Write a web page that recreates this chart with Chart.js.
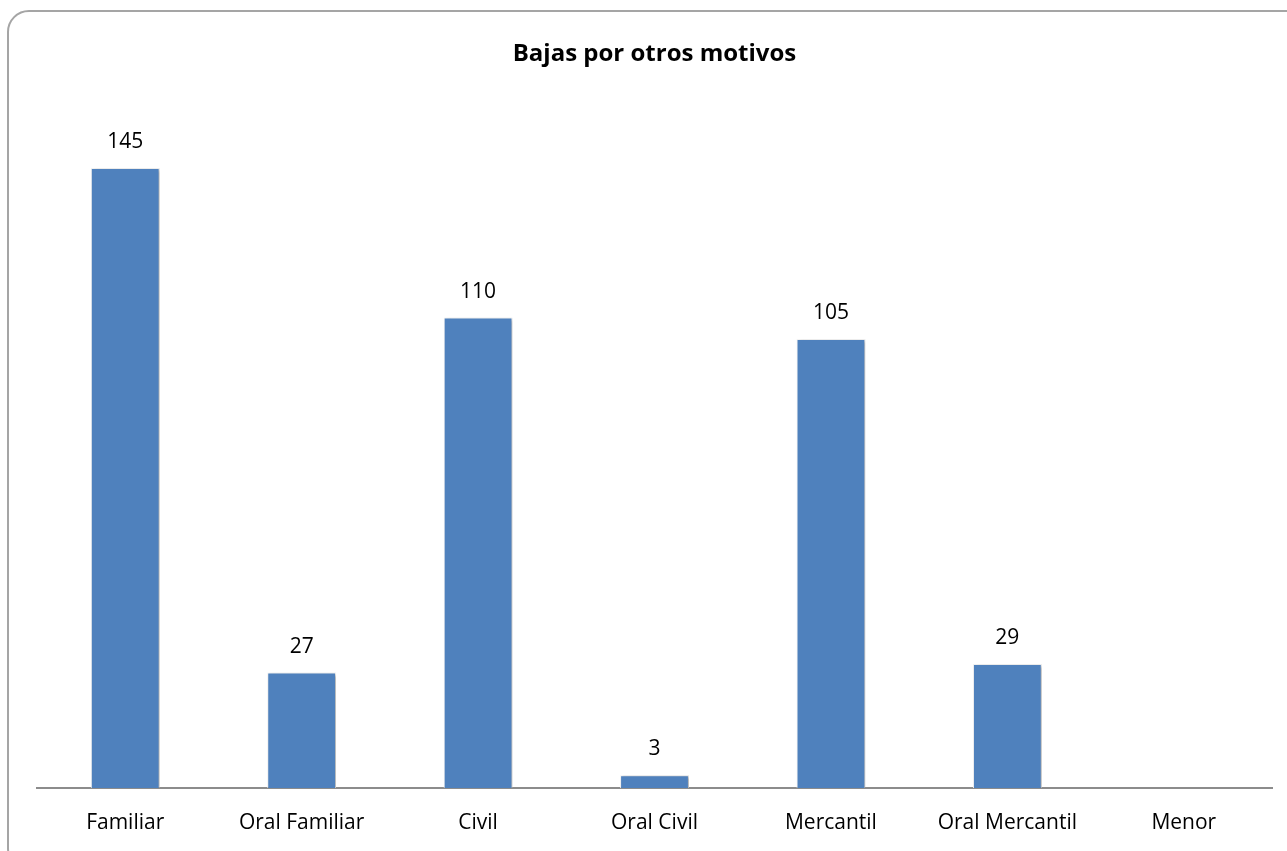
<!DOCTYPE html>
<html>
<head>
<meta charset="utf-8">
<script src="https://cdn.jsdelivr.net/npm/chart.js@4.4.0/dist/chart.umd.min.js"></script>
<style>
    html, body { margin: 0; padding: 0; background: #fff; }
    #wrap { position: relative; width: 1287px; height: 851px; overflow: hidden; }
    /* marco redondeado del gráfico, se sale por la derecha y abajo */
    #frame {
        position: absolute; left: 7px; top: 10px; width: 1300px; height: 860px;
        border: 2px solid #a5a5a5; border-radius: 22px; box-sizing: border-box;
    }
    #chart { position: absolute; left: 0; top: 0; }
</style>
</head>
<body>
<div id="wrap">
    <div id="frame"></div>
    <canvas id="chart" width="1287" height="851"></canvas>
</div>
<script>
// datos
const categories = ['Familiar', 'Oral Familiar', 'Civil', 'Oral Civil', 'Mercantil', 'Oral Mercantil', 'Menor'];
const bajas = [145, 27, 110, 3, 105, 29, null];
const chartTitle = 'Bajas por otros motivos';
const yMax = 160;

const fontFamily = '"Open Sans", Lato, sans-serif';

// sombra de las barras
const barShadow = {
    id: 'barShadow',
    beforeDatasetsDraw(chart) {
        const ctx = chart.ctx;
        ctx.save();
        ctx.shadowColor = 'rgba(0,0,0,0.3)';
        ctx.shadowBlur = 3;
        ctx.shadowOffsetX = 2;
        ctx.shadowOffsetY = 1;
    },
    afterDatasetsDraw(chart) {
        chart.ctx.restore();
    }
};

// etiquetas de valor sobre las barras
const valueLabels = {
    id: 'valueLabels',
    afterDatasetsDraw(chart) {
        const ctx = chart.ctx;
        const meta = chart.getDatasetMeta(0);
        ctx.save();
        ctx.font = '21px ' + fontFamily;
        ctx.fillStyle = '#000';
        ctx.textAlign = 'center';
        ctx.textBaseline = 'middle';
        meta.data.forEach((bar, i) => {
            const v = chart.data.datasets[0].data[i];
            if (v === null || v === undefined) return;
            ctx.fillText(String(v), bar.x, bar.y - 26);
        });
        ctx.restore();
    }
};

new Chart(document.getElementById('chart'), {
    type: 'bar',
    data: {
        labels: categories,
        datasets: [{
            data: bajas,
            backgroundColor: '#4f81bd',
            borderColor: '#f2f2f2',
            borderWidth: { left: 1, right: 1, top: 1, bottom: 0 },
            barPercentage: 0.39,
            categoryPercentage: 1
        }]
    },
    options: {
        responsive: false,
        animation: false,
        layout: { padding: { left: 37, right: 15, top: 0, bottom: 0 } },
        plugins: {
            legend: { display: false },
            tooltip: { enabled: false },
            title: {
                display: true,
                text: chartTitle,
                color: '#000',
                font: { family: fontFamily, size: 24, weight: 'bold' },
                padding: { top: 40, bottom: 35 }
            }
        },
        scales: {
            x: {
                grid: { display: false, drawTicks: false },
                border: { display: true, color: '#8c8c8c', width: 2 },
                ticks: { color: '#000', padding: 22, font: { family: fontFamily, size: 21 } },
                afterFit(scale) { scale.height = 63; }
            },
            y: {
                display: false,
                min: 0,
                max: yMax
            }
        }
    },
    plugins: [barShadow, valueLabels]
});
</script>
</body>
</html>
